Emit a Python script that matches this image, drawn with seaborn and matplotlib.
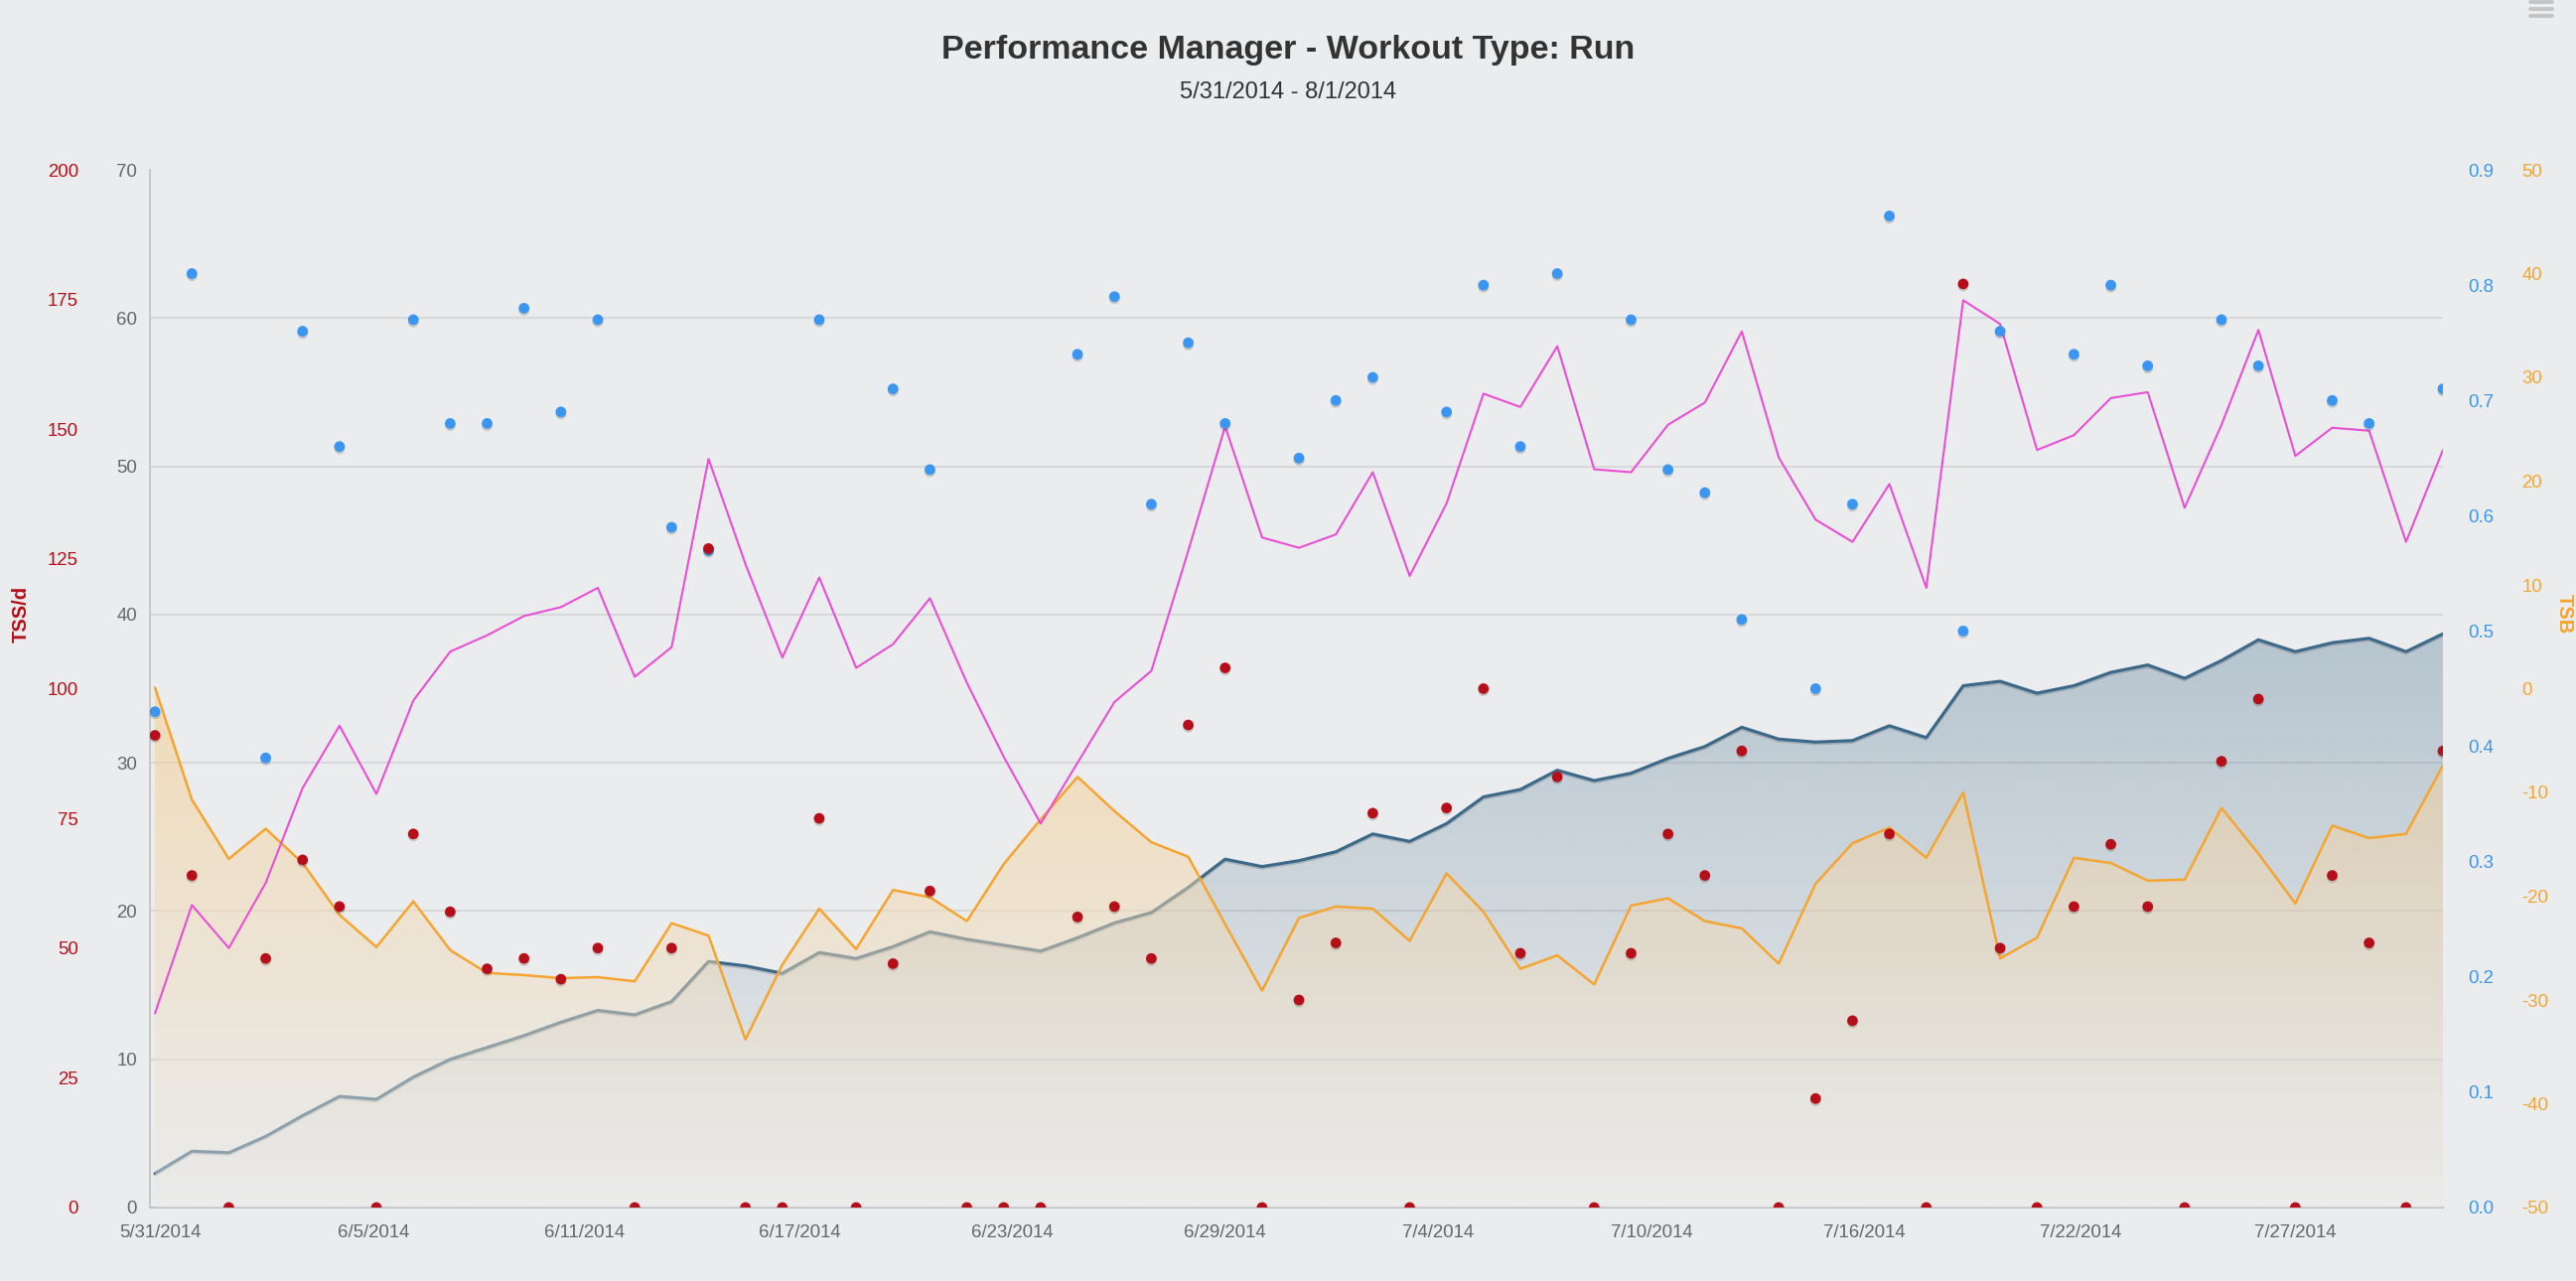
import matplotlib.pyplot as plt
import matplotlib.patheffects as pe
import matplotlib.colors as mcolors
from matplotlib.lines import Line2D
from matplotlib.ticker import FormatStrFormatter
import seaborn as sns
import numpy as np
import pandas as pd

nan = np.nan

# one value per day, 5/31/2014 .. 8/1/2014
dates = pd.date_range('2014-05-31', '2014-08-01', freq='D')

tss = [91, 64, 0, 48, 67, 58, 0, 72, 57, 46,
       48, 44, 50, 0, 50, 127, 0, 0, 75, 0,
       47, 61, 0, 0, 0, 56, 58, 48, 93, 104,
       0, 40, 51, 76, 0, 77, 100, 49, 83, 0,
       49, 72, 64, 88, 0, 21, 36, 72, 0, 178,
       50, 0, 58, 70, 58, 0, 86, 98, 0, 64,
       51, 0, 88]

if_values = [0.43, 0.81, nan, 0.39, 0.76, 0.66, nan, 0.77, 0.68, 0.68,
             0.78, 0.69, 0.77, nan, 0.59, 0.57, nan, nan, 0.77, nan,
             0.71, 0.64, nan, nan, nan, 0.74, 0.79, 0.61, 0.75, 0.68,
             nan, 0.65, 0.70, 0.72, nan, 0.69, 0.80, 0.66, 0.81, nan,
             0.77, 0.64, 0.62, 0.51, nan, 0.45, 0.61, 0.86, nan, 0.50,
             0.76, nan, 0.74, 0.80, 0.73, nan, 0.77, 0.73, nan, 0.70,
             0.68, nan, 0.71]

ctl = [2.3, 3.8, 3.7, 4.8, 6.2, 7.5, 7.3, 8.8, 10.0, 10.8,
       11.6, 12.5, 13.3, 13.0, 13.9, 16.6, 16.3, 15.8, 17.2, 16.8,
       17.6, 18.6, 18.1, 17.7, 17.3, 18.2, 19.2, 19.9, 21.6, 23.5,
       23.0, 23.4, 24.0, 25.2, 24.7, 25.9, 27.7, 28.2, 29.5, 28.8,
       29.3, 30.3, 31.1, 32.4, 31.6, 31.4, 31.5, 32.5, 31.7, 35.2,
       35.5, 34.7, 35.2, 36.1, 36.6, 35.7, 36.9, 38.3, 37.5, 38.1,
       38.4, 37.5, 38.7]

atl = [13.1, 20.4, 17.5, 21.9, 28.3, 32.5, 27.9, 34.2, 37.5, 38.6,
       39.9, 40.5, 41.8, 35.8, 37.8, 50.5, 43.4, 37.1, 42.5, 36.4,
       38.0, 41.1, 35.4, 30.4, 25.9, 30.0, 34.1, 36.2, 44.3, 52.7,
       45.2, 44.5, 45.4, 49.6, 42.6, 47.5, 54.9, 54.0, 58.1, 49.8,
       49.6, 52.8, 54.3, 59.1, 50.6, 46.4, 44.9, 48.8, 41.8, 61.2,
       59.6, 51.1, 52.1, 54.6, 55.0, 47.2, 52.8, 59.2, 50.7, 52.6,
       52.4, 44.9, 51.1]

tsb = [0.1, -10.7, -16.4, -13.5, -16.8, -21.8, -24.9, -20.5, -25.2, -27.4,
       -27.6, -27.9, -27.8, -28.2, -22.6, -23.8, -33.8, -26.6, -21.2, -25.1,
       -19.4, -20.1, -22.4, -16.9, -12.6, -8.5, -11.8, -14.8, -16.2, -22.7,
       -29.1, -22.1, -21.0, -21.2, -24.3, -17.8, -21.5, -27.0, -25.7, -28.5,
       -20.9, -20.2, -22.4, -23.1, -26.5, -18.8, -14.9, -13.4, -16.3, -10.0,
       -26.0, -24.0, -16.3, -16.8, -18.5, -18.4, -11.5, -15.9, -20.7, -13.2,
       -14.4, -14.0, -7.4]

xtick_labels = ['5/31/2014', '6/5/2014', '6/11/2014', '6/17/2014', '6/23/2014',
                '6/29/2014', '7/4/2014', '7/10/2014', '7/16/2014', '7/22/2014',
                '7/27/2014']
xtick_pos = [0.15, 5.92, 11.65, 17.48, 23.22, 28.99, 34.78, 40.56, 46.33, 52.19, 57.99]

df = pd.DataFrame({'day': np.arange(len(dates)), 'tss': tss, 'if': if_values,
                   'ctl': ctl, 'atl': atl, 'tsb': tsb})

bg = '#ebeced'
red = '#b70f19'
blue = '#3a96f2'
orange = '#f5a52f'
magenta = '#e94fd5'
ctl_col = '#3a6889'
gray_txt = '#666666'

sns.set_theme(style='white')
plt.rcParams['font.family'] = ['Liberation Sans', 'DejaVu Sans']
plt.rcParams['axes.unicode_minus'] = False


def gradient_area(axis, x, y, base, top_rgba, bottom_rgba, z):
    area = axis.fill_between(x, y, base, facecolor='none', edgecolor='none')
    t = np.linspace(0, 1, 256)[:, None]
    img = (1 - t) * np.array(top_rgba) + t * np.array(bottom_rgba)
    im = axis.imshow(img[:, None, :], aspect='auto', origin='upper',
                     extent=[x.min(), x.max(), base, y.max()],
                     interpolation='bilinear', zorder=z)
    im.set_clip_path(area.get_paths()[0], axis.transData)


fig = plt.figure(figsize=(25.94, 12.90), dpi=100, facecolor=bg)
ax = fig.add_axes([151 / 2594, 1 - 1216 / 1290, 2309 / 2594, 1045 / 1290])
ax.set_facecolor('none')
ax_tsb = ax.twinx()
ax_atl = ax.twinx()
ax_if = ax.twinx()
ax_tss = ax.twinx()

x = df['day'].to_numpy(dtype=float)

# CTL area + line
c = mcolors.to_rgb(ctl_col)
gradient_area(ax, x, df['ctl'].to_numpy(), 0, (*c, 0.30), (*c, 0.0), 1)
sns.lineplot(data=df, x='day', y='ctl', ax=ax, color=ctl_col, linewidth=2.2,
             zorder=2, path_effects=[pe.SimpleLineShadow(offset=(0, -1.2), alpha=0.18),
                                     pe.Normal()])

# TSB area + line
gradient_area(ax_tsb, x, df['tsb'].to_numpy(), -50,
              (248 / 255, 203 / 255, 135 / 255, 0.52),
              (235 / 255, 235 / 255, 234 / 255, 0.45), 1)
sns.lineplot(data=df, x='day', y='tsb', ax=ax_tsb, color=orange, linewidth=1.8, zorder=2)

# ATL line
sns.lineplot(data=df, x='day', y='atl', ax=ax_atl, color=magenta, linewidth=1.5, zorder=3)

dot_fx = [pe.SimplePatchShadow(offset=(0, -1.6), shadow_rgbFace='black', alpha=0.16),
          pe.Normal()]
sns.scatterplot(data=df, x='day', y='if', ax=ax_if, color=blue, s=60,
                edgecolor='none', zorder=4)
ax_if.collections[-1].set_path_effects(dot_fx)
sns.scatterplot(data=df, x='day', y='tss', ax=ax_tss, color=red, s=60,
                edgecolor='none', zorder=4)
ax_tss.collections[-1].set_path_effects(dot_fx)

for a in [ax, ax_tsb, ax_atl, ax_if, ax_tss]:
    a.set_xlabel('')
    a.set_ylabel('')
    for s in a.spines.values():
        s.set_visible(False)

ax.set_xlim(-0.137, 62)
ax.set_ylim(0, 70)
ax.set_yticks(range(0, 71, 10))
ax.tick_params(axis='y', length=0, pad=9.4, labelsize=13.4, labelcolor=gray_txt)
ax.set_xticks(xtick_pos, xtick_labels)
ax.tick_params(axis='x', length=0, pad=12.5, labelsize=13.4, labelcolor=gray_txt)
ax.grid(axis='y', color='#d7d8da', linewidth=1.5)
ax.set_axisbelow(True)
gl = ax.get_ygridlines()
gl[0].set_visible(False)
gl[-1].set_visible(False)
ax.spines['left'].set_visible(True)
ax.spines['left'].set_color('#c6c6c6')
ax.spines['left'].set_linewidth(1.4)
ax.spines['bottom'].set_visible(True)
ax.spines['bottom'].set_color('#c0c0c6')
ax.spines['bottom'].set_linewidth(1.5)

ax_atl.set_ylim(0, 70)
ax_atl.set_yticks([])

ax_tss.yaxis.set_ticks_position('left')
ax_tss.spines['left'].set_position(('outward', 42.5))
ax_tss.set_ylim(0, 200)
ax_tss.set_yticks(range(0, 201, 25))
ax_tss.tick_params(axis='y', length=0, pad=9.4, labelsize=13.4, labelcolor=red)

ax_if.set_ylim(0, 0.9)
ax_if.set_yticks(np.arange(0, 0.91, 0.1))
ax_if.yaxis.set_major_formatter(FormatStrFormatter('%.1f'))
ax_if.tick_params(axis='y', length=0, pad=18, labelsize=13.4, labelcolor=blue)

ax_tsb.spines['right'].set_position(('outward', 39))
ax_tsb.set_ylim(-50, 50)
ax_tsb.set_yticks(range(-50, 51, 10))
ax_tsb.tick_params(axis='y', length=0, pad=18, labelsize=13.4, labelcolor=orange)

ax.set_xlim(-0.137, 62)

fig.text(0.5, 1 - 50 / 1290, 'Performance Manager - Workout Type: Run', ha='center',
         va='center', fontsize=24.5, fontweight='bold', color='#333333')
fig.text(0.5, 1 - 93 / 1290, '5/31/2014 - 8/1/2014', ha='center', va='center',
         fontsize=17, color='#333333')
fig.text(21 / 2594, 1 - 618 / 1290, 'TSS/d', rotation=90, ha='center', va='center',
         fontsize=14.5, fontweight='bold', color=red)
fig.text(2582 / 2594, 1 - 618 / 1290, 'TSB', rotation=270, ha='center', va='center',
         fontsize=14.5, fontweight='bold', color=orange)

# export menu icon, top right
for yy in [2, 9, 16]:
    fig.add_artist(Line2D([2548 / 2594, 2570 / 2594], [1 - yy / 1290, 1 - yy / 1290],
                          color='#c4c4c4', linewidth=2.8))

fig.savefig('out.png', dpi=100, facecolor=bg)
